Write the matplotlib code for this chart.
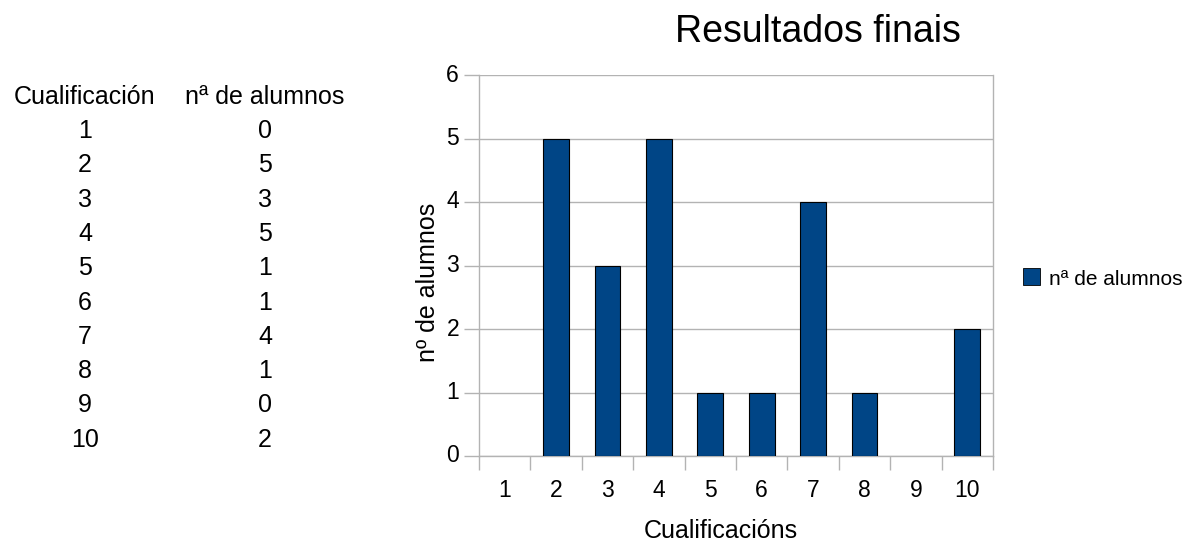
import matplotlib
matplotlib.use("Agg")
import matplotlib.pyplot as plt
from matplotlib.patches import Rectangle
from matplotlib.transforms import blended_transform_factory
import numpy as np

plt.rcParams['font.family'] = ['Liberation Sans', 'DejaVu Sans']

# Data
cualificacions = [1, 2, 3, 4, 5, 6, 7, 8, 9, 10]
alumnos = [0, 5, 3, 5, 1, 1, 4, 1, 0, 2]
col_headers = ["Cualificación", "nª de alumnos"]
series_name = "nª de alumnos"
y_ticks = [0, 1, 2, 3, 4, 5, 6]

W, H = 1187, 543
fig = plt.figure(figsize=(W / 100, H / 100), dpi=100)

bar_color = "#004586"
grid_color = "#b3b3b3"


def fx(px):
    return px / W


def fy(py):
    return 1 - py / H


# Plot area in pixel coordinates
px_left, px_right, px_top, px_bottom = 479, 993, 75, 456
ax = fig.add_axes([fx(px_left), fy(px_bottom),
                   (px_right - px_left) / W, (px_bottom - px_top) / H])

x = np.arange(len(cualificacions))
# empty categories get no outline so nothing shows on the baseline
edges = ["black" if v > 0 else "none" for v in alumnos]
ax.bar(x, alumnos, width=0.5, color=bar_color, edgecolor=edges,
       linewidth=0.8, zorder=3, label=series_name)

ax.set_xlim(-0.5, len(cualificacions) - 0.5)
ax.set_ylim(0, 6)
ax.set_yticks(y_ticks)
ax.yaxis.grid(True, color=grid_color, linewidth=1, zorder=0)
ax.set_xticks(np.arange(-0.5, len(cualificacions)))
ax.tick_params(axis="x", which="major", length=10, color=grid_color, width=1,
               labelbottom=False)
ax.tick_params(axis="y", which="major", length=11, color=grid_color, width=1,
               labelleft=False)

for side in ["left", "right", "bottom"]:
    ax.spines[side].set_color(grid_color)
    ax.spines[side].set_linewidth(1)
ax.spines["top"].set_visible(False)

# Category labels under the bars, value labels left of the axis
tick_fs = 16.5
xt = blended_transform_factory(ax.transData, fig.transFigure)
for xi, c in zip(x, cualificacions):
    fig.text(xi, fy(497), str(c), transform=xt, ha="center", va="baseline",
             fontsize=tick_fs)
yt = blended_transform_factory(fig.transFigure, ax.transData)
for v in y_ticks:
    fig.text(fx(459), v, str(v), transform=yt, ha="right", va="center",
             fontsize=tick_fs)

# Axis titles and chart title
fig.text(fx(721), fy(538), "Cualificacións", ha="center", va="baseline",
         fontsize=18)
fig.text(fx(435), fy(282), "nº de alumnos", ha="center", va="baseline",
         rotation=90, rotation_mode="anchor", fontsize=18)
fig.text(fx(818), fy(42), "Resultados finais", ha="center", va="baseline",
         fontsize=27)

# Legend
fig.patches.append(Rectangle((fx(1023), fy(285)), 17 / W, 17 / H,
                             transform=fig.transFigure, facecolor=bar_color,
                             edgecolor="black", linewidth=0.6))
fig.text(fx(1049), fy(285), series_name, ha="left", va="baseline",
         fontsize=15)

# Data table
table_fs = 18
col_x = [85, 265]
header_base = 104
row_base0, row_step = 138, 34.3
for cx, head in zip(col_x, col_headers):
    fig.text(fx(cx), fy(header_base), head, ha="center", va="baseline",
             fontsize=table_fs)
for i, (c, n) in enumerate(zip(cualificacions, alumnos)):
    yy = row_base0 + i * row_step
    fig.text(fx(col_x[0]), fy(yy), str(c), ha="center", va="baseline",
             fontsize=table_fs)
    fig.text(fx(col_x[1]), fy(yy), str(n), ha="center", va="baseline",
             fontsize=table_fs)

fig.savefig("out.png", dpi=100)
